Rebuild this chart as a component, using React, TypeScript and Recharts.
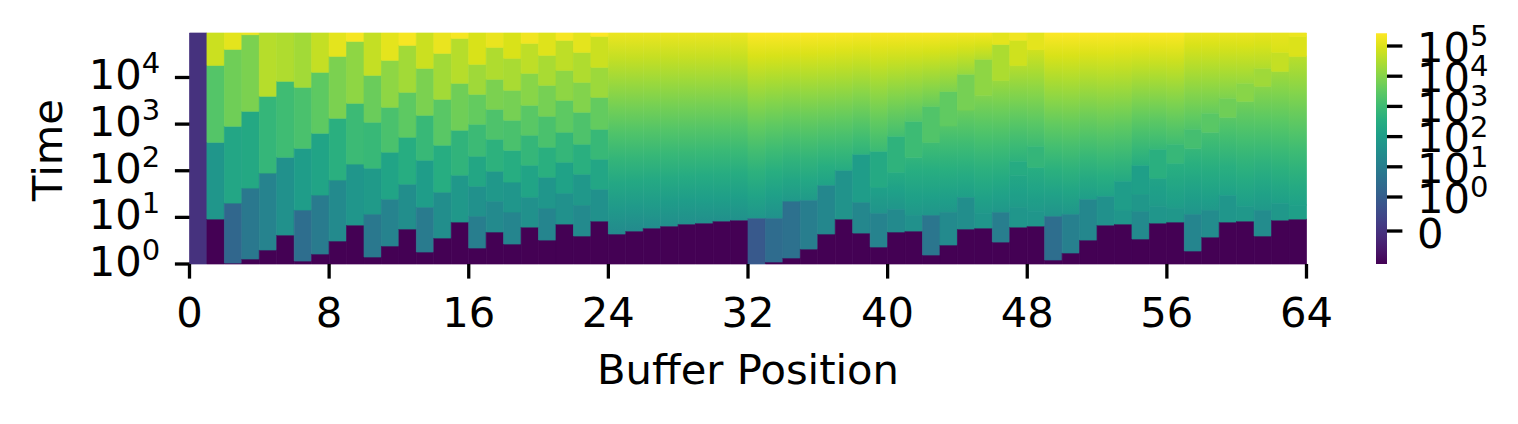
import React from 'react';
import { ComposedChart, XAxis, YAxis, ReferenceArea, Label } from 'recharts';

// ---------------- data ----------------
const TIME_TOP_LOG = 4.954; // log10 of the last time step shown
const T = TIME_TOP_LOG;
const ZERO_AGE = -Infinity; // log10(0): freshly written

const positionTicks = [0, 8, 16, 24, 32, 40, 48, 56, 64];
const timeTicks = [1, 10, 100, 1000, 10000];
const colorbarTickValues = [0, 1, 10, 100, 1000, 10000, 100000];
const colorbarTickLabels = ['0', '0', '1', '2', '3', '4', '5'];

// log10(time) at which each buffer position stops being "unwritten" (value -1 below it)
const firstWriteLog = [
  0, 0.964, 0.02, 0.107, 0.3, 0.621, 0.064, 0.214, 0.493, 0.835, 0.15, 0.386, 0.75, 0.257, 0.557, 0.9,
  0.343, 0.686, 0.428, 0.792, 0.514, 0.857, 0.6, 0.921, 0.643, 0.707, 0.771, 0.814, 0.857, 0.878, 0.921, 0.942,
  0, 0.043, 0.129, 0.321, 0.643, 0.964, 0.664, 0.364, 0.686, 0.707, 0.193, 0.407, 0.75, 0.771, 0.471, 0.792,
  0.814, 0.086, 0.236, 0.514, 0.835, 0.857, 0.536, 0.878, 0.9, 0.279, 0.578, 0.9, 0.921, 0.6, 0.942, 0.964,
];

// log10(time) upper edges of the bands above firstWriteLog, per buffer position
const bandEdges: number[][] = [
  [T],
  [2.61, 4.26, T],
  [1.306, 2.955, 4.604, T],
  [1.628, 3.276, 4.918, T],
  [1.949, 3.598, T],
  [2.291, 3.919, T],
  [1.157, 2.484, 3.79, T],
  [1.478, 2.806, 4.112, T],
  [1.799, 3.127, 4.454, T],
  [2.142, 3.448, 4.775, T],
  [1.071, 2.056, 3.041, 4.047, T],
  [1.392, 2.399, 3.362, 4.369, T],
  [1.713, 2.72, 3.683, 4.69, T],
  [1.221, 2.227, 3.19, 4.197, T],
  [1.542, 2.548, 3.533, 4.518, T],
  [1.906, 2.87, 3.876, 4.84, T],
  [1.028, 1.67, 2.313, 2.998, 3.64, 4.283, T],
  [1.349, 1.992, 2.677, 3.319, 3.962, 4.647, T],
  [1.114, 1.756, 2.441, 3.084, 3.726, 4.411, T],
  [1.435, 2.12, 2.763, 3.405, 4.09, 4.733, T],
  [1.2, 1.863, 2.506, 3.17, 3.833, 4.476, T],
  [1.521, 2.184, 2.827, 3.512, 4.154, 4.797, T],
  [1.264, 1.927, 2.57, 3.255, 3.897, 4.54, T],
  [1.606, 2.249, 2.891, 3.576, 4.219, 4.883, T],
  [T],
  [T],
  [T],
  [T],
  [T],
  [T],
  [T],
  [T],
  [0.985, T],
  [0.985, T],
  [1.349, T],
  [1.371, T],
  [1.692, T],
  [2.013, T],
  [1.328, 2.356, T],
  [1.092, 1.65, 2.42, T],
  [1.178, 1.97, 2.74, T],
  [1.05, 2.29, 3.06, T],
  [1.05, 2.61, 3.38, T],
  [1.114, 2.96, 3.7, T],
  [1.435, 3.3, 4.07, T],
  [1.092, 3.62, 4.39, T],
  [1.114, 3.94, 4.71, T],
  [1.221, 1.905, 2.205, 4.26, 4.8, T],
  [1.135, 2.077, 2.527, 4.6, T],
  [1.028, T],
  [1.071, T],
  [1.392, T],
  [1.456, T],
  [1.157, 1.778, T],
  [1.135, 1.5, 2.12, T],
  [1.242, 1.842, 2.463, T],
  [1.2, 2.163, 2.57, T],
  [1.071, 2.484, 2.891, T],
  [1.157, 2.827, 3.234, T],
  [1.478, 3.148, 3.555, T],
  [1.242, 3.491, 3.876, T],
  [1.157, 3.812, 4.197, T],
  [1.306, 4.133, 4.54, T],
  [1.264, 4.454, 4.882, T],
];

// log10(age) of each band; a pair shades from the band's bottom to its top
type Age = number | [number, number];
const bandAges: Age[][] = [
  [ZERO_AGE],
  [1.75, 3.35, 4.8],
  [0.3, 2.28, 3.73, 5.1],
  [0.84, 2.36, 3.88, 5.18],
  [1.14, 2.82, 4.57],
  [1.6, 3.04, 4.49],
  [0.53, 1.98, 3.2, 4.34],
  [0.92, 2.21, 3.5, 4.72],
  [1.37, 2.59, 3.88, 5.1],
  [1.75, 2.97, 4.11, 5.33],
  [0.84, 1.9, 2.89, 3.66, 4.72],
  [1.14, 2.21, 3.2, 4.11, 5.1],
  [1.52, 2.51, 3.5, 4.34, 5.33],
  [0.92, 1.98, 2.89, 3.88, 4.8],
  [1.52, 2.51, 3.43, 4.34, 5.18],
  [1.83, 2.74, 3.73, 4.57, 5.33],
  [0.99, 1.6, 2.3, 2.97, 3.58, 4.3, 4.95],
  [1.37, 1.83, 2.67, 3.27, 3.88, 4.49, 5.18],
  [1.22, 1.75, 2.51, 3.2, 3.81, 4.42, 4.95],
  [1.6, 2.21, 2.82, 3.43, 4.04, 4.65, 5.26],
  [1.22, 1.75, 2.59, 3.2, 3.81, 4.42, 5.03],
  [1.6, 2.13, 2.82, 3.5, 4.11, 4.65, 5.33],
  [1.37, 1.83, 2.59, 3.27, 3.96, 4.49, 5.1],
  [1.6, 2.28, 2.89, 3.58, 4.27, 4.8, 5.41],
  [[1.37, 5.2]],
  [[1.42, 5.2]],
  [[1.47, 5.2]],
  [[1.5, 5.2]],
  [[1.53, 5.2]],
  [[1.55, 5.2]],
  [[1.58, 5.2]],
  [[1.6, 5.2]],
  [-0.05, [1.75, 5.41]],
  [0.46, [1.6, 5.41]],
  [0.61, [1.85, 5.41]],
  [0.99, [1.9, 5.41]],
  [1.29, [2.15, 5.4]],
  [1.68, [2.45, 5.38]],
  [1.29, 1.98, [2.7, 5.35]],
  [1.14, [1.7, 2.1], 2.4, [2.95, 5.35]],
  [1.37, [1.75, 2.45], 2.7, [3.1, 5.35]],
  [1.6, [1.8, 2.75], 3.0, [3.35, 5.35]],
  [0.76, [1.75, 3.05], 3.31, [3.6, 5.35]],
  [1.37, [1.8, 3.35], 3.54, [3.9, 5.3]],
  [1.52, [2.05, 3.65], 3.81, [4.2, 5.3]],
  [1.75, [1.85, 3.95], 4.11, [4.5, 5.3]],
  [0.99, [1.8, 4.25], 4.46, 5.1],
  [1.75, [1.9, 2.3], 2.45, [2.65, 4.55], 4.84, 5.25],
  [1.75, [1.85, 2.55], 2.8, [3.0, 4.85], 5.1],
  [0.53, [1.7, 5.41]],
  [1.07, [1.8, 5.41]],
  [1.29, [2.0, 5.41]],
  [1.6, [2.15, 5.41]],
  [1.75, 1.98, [2.4, 5.4]],
  [1.37, 1.8, 2.06, [2.5, 5.4]],
  [1.75, [1.9, 2.2], 2.59, [2.85, 5.4]],
  [1.8, [1.95, 2.6], 2.86, [3.05, 5.4]],
  [1.22, [1.75, 2.85], 3.12, [3.3, 5.2]],
  [1.45, [1.85, 3.15], 3.43, [3.6, 5.2]],
  [1.75, [2.1, 3.45], 3.73, [3.9, 5.2]],
  [1.83, [2.0, 3.75], 4.04, [4.2, 5.2]],
  [1.45, [1.85, 4.05], 4.3, [4.5, 5.15]],
  [1.83, [2.05, 4.3], 4.72, [4.95, 5.15]],
  [2.06, [2.1, 4.6], 4.99, 5.2],
];

// ---------------- colour map ----------------
const VIRIDIS = [
  '#440154', '#48186a', '#472d7b', '#424086', '#3b528b', '#33638d', '#2c728e', '#26828e', '#21918c',
  '#1fa088', '#28ae80', '#3fbc73', '#5ec962', '#84d44b', '#addc30', '#d8e219', '#fde725',
];
const hexRgb = (h: string) => [1, 3, 5].map((i) => parseInt(h.slice(i, i + 2), 16));
const VIR_RGB = VIRIDIS.map(hexRgb);
function viridis(t: number): string {
  const c = Math.max(0, Math.min(1, t)) * (VIR_RGB.length - 1);
  const i = Math.min(VIR_RGB.length - 2, Math.floor(c));
  const f = c - i;
  const rgb = VIR_RGB[i].map((v, j) => Math.round(v + (VIR_RGB[i + 1][j] - v) * f));
  return `rgb(${rgb[0]},${rgb[1]},${rgb[2]})`;
}
// symmetric-log colour norm of the colour bar (vmin -1, linear below 1)
const POS_ZERO = 0.143;
const POS_ONE = 0.2904;
const POS_DECADE = 0.1309;
function norm(v: number): number {
  if (v < 0) return POS_ZERO * (1 + v);
  if (v < 1) return POS_ZERO + v * (POS_ONE - POS_ZERO);
  return POS_ONE + Math.log10(v) * POS_DECADE;
}
const colorOfLogAge = (a: number) => viridis(norm(Math.pow(10, a)));
const UNWRITTEN = -1;

type Cell = { key: string; x1: number; x2: number; y1: number; y2: number; fill: string; grad?: { id: string; a0: number; a1: number } };
const cells: Cell[] = [];
firstWriteLog.forEach((first, k) => {
  if (first > 0) {
    cells.push({ key: `u${k}`, x1: k, x2: k + 1, y1: 1, y2: Math.pow(10, first), fill: viridis(norm(UNWRITTEN)) });
  }
  let lo = first;
  bandEdges[k].forEach((hi, i) => {
    const a = bandAges[k][i];
    if (Array.isArray(a)) {
      const id = `g${k}_${i}`;
      cells.push({ key: id, x1: k, x2: k + 1, y1: Math.pow(10, lo), y2: Math.pow(10, hi), fill: `url(#${id})`, grad: { id, a0: a[0], a1: a[1] } });
    } else {
      cells.push({ key: `b${k}_${i}`, x1: k, x2: k + 1, y1: Math.pow(10, lo), y2: Math.pow(10, hi), fill: colorOfLogAge(a) });
    }
    lo = hi;
  });
});

const FONT = 'DejaVu Sans';
const FS = 41.7;
const SUP = 29;

const XTick = (p: any) => (
  <text x={p.x} y={p.y} dy="0.71em" textAnchor="middle" fontSize={FS} fontFamily={FONT} fill="#000">
    {p.payload.value}
  </text>
);
const YTick = (p: any) => (
  <text x={p.x} y={p.y + 12} textAnchor="end" fontSize={FS} fontFamily={FONT} fill="#000">
    <tspan>10</tspan>
    <tspan dy={-16} fontSize={SUP}>{Math.round(Math.log10(p.payload.value))}</tspan>
  </text>
);
const CTick = (p: any) =>
  p.index === 0 ? (
    <text x={p.x} y={p.y + 17} textAnchor="start" fontSize={FS} fontFamily={FONT} fill="#000">0</text>
  ) : (
    <text x={p.x} y={p.y + 15.7} textAnchor="start" fontSize={FS} fontFamily={FONT} fill="#000">
      <tspan>10</tspan>
      <tspan dy={-15.7} fontSize={SUP}>{colorbarTickLabels[p.index]}</tspan>
    </text>
  );

const colorbarData = [{ x: 0 }, { x: 1 }];

export default function App() {
  const gradStops = [0, 0.125, 0.25, 0.375, 0.5, 0.625, 0.75, 0.875, 1];
  return (
    <div style={{ position: 'absolute', left: 0, top: 0, width: 1518, height: 424, background: '#fff', fontFamily: FONT }}>
      <svg width={0} height={0} style={{ position: 'absolute' }}>
        <defs>
          {cells.filter((c) => c.grad).map((c) => (
            <linearGradient key={c.grad!.id} id={c.grad!.id} x1="0" y1="1" x2="0" y2="0">
              {gradStops.map((f) => (
                <stop key={f} offset={f} stopColor={colorOfLogAge(c.grad!.a0 + (c.grad!.a1 - c.grad!.a0) * f)} />
              ))}
            </linearGradient>
          ))}
          <linearGradient id="cbar" x1="0" y1="1" x2="0" y2="0">
            {VIRIDIS.map((c, i) => (
              <stop key={i} offset={i / (VIRIDIS.length - 1)} stopColor={c} />
            ))}
          </linearGradient>
        </defs>
      </svg>
      <div style={{ position: 'absolute', left: 0, top: 0 }}>
        <ComposedChart width={1518} height={424} margin={{ top: 33, right: 211.5, bottom: 0, left: 0 }}>
          <XAxis
            type="number"
            dataKey="x"
            domain={[0, 64]}
            ticks={positionTicks}
            interval={0}
            allowDataOverflow
            height={160}
            axisLine={false}
            tickSize={14.6}
            tickMargin={19}
            tickLine={{ stroke: '#000', strokeWidth: 3.3 }}
            tick={<XTick />}
          >
            <Label
              content={(p: any) => (
                <text x={p.viewBox.x + p.viewBox.width / 2} y={p.viewBox.y + 120.3} textAnchor="middle" fontSize={FS} fontFamily={FONT} fill="#000">
                  Buffer Position
                </text>
              )}
            />
          </XAxis>
          <YAxis
            type="number"
            scale="log"
            domain={[1, Math.pow(10, TIME_TOP_LOG)]}
            ticks={timeTicks}
            interval={0}
            allowDataOverflow
            width={189.5}
            axisLine={false}
            tickSize={14.6}
            tickMargin={14.6}
            tickLine={{ stroke: '#000', strokeWidth: 3.3 }}
            tick={<YTick />}
          >
            <Label
              content={(p: any) => (
                <text
                  transform={`translate(${p.viewBox.x + 62}, ${p.viewBox.y + p.viewBox.height / 2 + 1.5}) rotate(-90)`}
                  textAnchor="middle"
                  fontSize={FS}
                  fontFamily={FONT}
                  fill="#000"
                >
                  Time
                </text>
              )}
            />
          </YAxis>
          {cells.map((c) => (
            <ReferenceArea
              key={c.key}
              x1={c.x1}
              x2={c.x2}
              y1={c.y1}
              y2={c.y2}
              fill={c.fill}
              fillOpacity={1}
              stroke={c.fill}
              strokeWidth={0.7}
              ifOverflow="visible"
            />
          ))}
        </ComposedChart>
      </div>
      <div style={{ position: 'absolute', left: 1360, top: 0 }}>
        <ComposedChart width={158} height={424} data={colorbarData} margin={{ top: 33.3, right: 0, bottom: 0, left: 16 }}>
          <XAxis type="number" dataKey="x" domain={[0, 1]} height={160} tick={false} tickLine={false} axisLine={false} />
          <YAxis
            orientation="right"
            type="number"
            domain={[0, 1]}
            ticks={colorbarTickValues.map(norm)}
            interval={0}
            allowDataOverflow
            width={131}
            axisLine={false}
            tickSize={15.4}
            tickMargin={14.6}
            tickLine={{ stroke: '#000', strokeWidth: 3.3 }}
            tick={<CTick />}
          />
          <ReferenceArea x1={0} x2={1} y1={0} y2={1} fill="url(#cbar)" fillOpacity={1} ifOverflow="visible" />
        </ComposedChart>
      </div>
    </div>
  );
}
